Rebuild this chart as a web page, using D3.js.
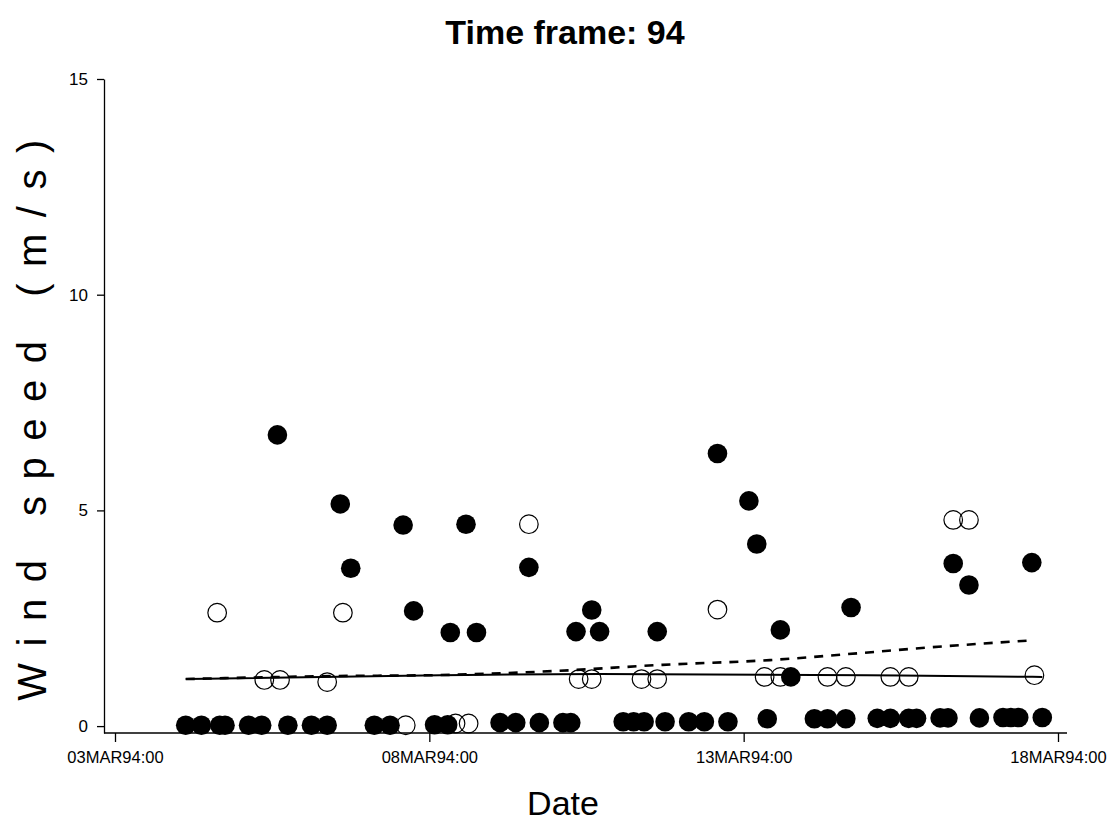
<!DOCTYPE html>
<html>
<head>
<meta charset="utf-8">
<script src="https://cdn.jsdelivr.net/npm/d3@7"></script>
<style>
  body { margin: 0; background: #fff; }
  text { font-family: "Liberation Sans", Arial, sans-serif; fill: #000; }
</style>
</head>
<body>
<div id="chart"></div>
<script>
// data (times as DDMONYY:HH, speed in m/s)
var filledTimes = [
  "04MAR94:03","04MAR94:09","04MAR94:16","04MAR94:18","05MAR94:03","05MAR94:08","05MAR94:18",
  "06MAR94:03","06MAR94:09","07MAR94:03","07MAR94:09","08MAR94:02","08MAR94:07",
  "09MAR94:03","09MAR94:09","09MAR94:18","10MAR94:03","10MAR94:06",
  "11MAR94:02","11MAR94:06","11MAR94:10","11MAR94:18","12MAR94:03","12MAR94:09","12MAR94:18",
  "13MAR94:09","14MAR94:03","14MAR94:08","14MAR94:15","15MAR94:03","15MAR94:08","15MAR94:15","15MAR94:18",
  "16MAR94:03","16MAR94:06","16MAR94:18","17MAR94:03","17MAR94:06","17MAR94:09","17MAR94:18",
  "05MAR94:14","06MAR94:14","06MAR94:18","07MAR94:14","07MAR94:18","08MAR94:08","08MAR94:14","08MAR94:18",
  "09MAR94:14","10MAR94:08","10MAR94:14","10MAR94:17","11MAR94:15","12MAR94:14","13MAR94:02","13MAR94:05",
  "13MAR94:14","13MAR94:18","14MAR94:17","16MAR94:08","16MAR94:14","17MAR94:14"
];
var filledSpeeds = [
  0.02,0.02,0.02,0.02,0.02,0.02,0.02,
  0.02,0.02,0.02,0.02,0.03,0.03,
  0.08,0.08,0.08,0.08,0.08,
  0.1,0.1,0.1,0.1,0.1,0.1,0.1,
  0.17,0.17,0.17,0.17,0.18,0.18,0.18,0.18,
  0.19,0.19,0.19,0.2,0.2,0.2,0.2,
  6.75,5.15,3.66,4.66,2.67,2.17,4.68,2.17,
  3.68,2.19,2.69,2.19,2.19,6.32,5.22,4.22,
  2.23,1.14,2.75,3.77,3.27,3.79
];

var openTimes = [
  "04MAR94:15","05MAR94:09","05MAR94:15","06MAR94:09","06MAR94:15","07MAR94:15","08MAR94:10","08MAR94:15",
  "09MAR94:14","10MAR94:09","10MAR94:14","11MAR94:09","11MAR94:15","12MAR94:14","13MAR94:08","13MAR94:14",
  "14MAR94:08","14MAR94:15","15MAR94:08","15MAR94:15","16MAR94:08","16MAR94:14","17MAR94:15"
];
var openSpeeds = [
  2.63,1.07,1.07,1.02,2.63,0.02,0.06,0.06,
  4.68,1.09,1.09,1.09,1.09,2.70,1.14,1.14,
  1.14,1.14,1.14,1.14,4.78,4.78,1.18
];

// fitted trend lines
var solidTimes = ["04MAR94:03","08MAR94:04","10MAR94:17","15MAR94:12","17MAR94:18"];
var solidSpeeds = [1.09, 1.18, 1.21, 1.17, 1.14];
var dashedTimes = ["04MAR94:03","06MAR94:11","08MAR94:01","10MAR94:01","11MAR94:17","13MAR94:10","14MAR94:20","15MAR94:22","17MAR94:12"];
var dashedSpeeds = [1.09, 1.16, 1.18, 1.28, 1.42, 1.53, 1.69, 1.82, 1.98];

var xTickLabels = ["03MAR94:00","08MAR94:00","13MAR94:00","18MAR94:00"];
var yTicks = [0, 5, 10, 15];

var svgWidth = 1112;
var svgHeight = 821;

var parseTime = d3.timeParse("%d%b%y:%H");
var formatTime = d3.timeFormat("%d%b%y:%H");

var svg = d3.select("#chart")
  .append("svg")
  .attr("width", svgWidth)
  .attr("height", svgHeight);

svg.append("rect").attr("width", svgWidth).attr("height", svgHeight).attr("fill", "#fff");

var xTickDates = xTickLabels.map(parseTime);

var xScale = d3.scaleTime()
  .domain([xTickDates[0], xTickDates[3]])
  .range([115, 1058]);

var yScale = d3.scaleLinear()
  .domain([-0.16, 15])
  .range([733, 79]);

// axes
var xAxis = d3.axisBottom(xScale)
  .tickValues(xTickDates)
  .tickSize(9)
  .tickSizeOuter(0)
  .tickFormat(d => formatTime(d).toUpperCase());

var gx = svg.append("g")
  .attr("transform", "translate(0,733)")
  .call(xAxis);
gx.select(".domain").attr("d", "M104,0H1067");
gx.selectAll("text")
  .attr("y", 18)
  .style("font-size", "16.5px");

var yAxis = d3.axisLeft(yScale)
  .tickValues(yTicks)
  .tickSize(7)
  .tickSizeOuter(0);

var gy = svg.append("g")
  .attr("transform", "translate(104,0)")
  .call(yAxis);
gy.selectAll("text")
  .attr("x", -16)
  .style("font-size", "17px");

svg.selectAll(".domain, .tick line").attr("stroke", "#000").attr("stroke-width", 1.3);

// trend lines
var line = d3.line()
  .x(d => xScale(d[0]))
  .y(d => yScale(d[1]))
  .curve(d3.curveMonotoneX);

var solidData = solidTimes.map((t, i) => [parseTime(t), solidSpeeds[i]]);
var dashedData = dashedTimes.map((t, i) => [parseTime(t), dashedSpeeds[i]]);

svg.append("path")
  .datum(dashedData)
  .attr("d", line)
  .attr("fill", "none")
  .attr("stroke", "#000")
  .attr("stroke-width", 2.6)
  .attr("stroke-dasharray", "9,8");

svg.append("path")
  .datum(solidData)
  .attr("d", line)
  .attr("fill", "none")
  .attr("stroke", "#000")
  .attr("stroke-width", 2);

// points
var openData = openTimes.map((t, i) => ({ date: parseTime(t), speed: openSpeeds[i] }));
var filledData = filledTimes.map((t, i) => ({ date: parseTime(t), speed: filledSpeeds[i] }));

svg.append("g").selectAll("circle")
  .data(openData)
  .enter()
  .append("circle")
  .attr("cx", d => xScale(d.date))
  .attr("cy", d => yScale(d.speed))
  .attr("r", 9.3)
  .attr("fill", "none")
  .attr("stroke", "#000")
  .attr("stroke-width", 1.2);

svg.append("g").selectAll("circle")
  .data(filledData)
  .enter()
  .append("circle")
  .attr("cx", d => xScale(d.date))
  .attr("cy", d => yScale(d.speed))
  .attr("r", 9.8)
  .attr("fill", "#000");

// titles
svg.append("text")
  .attr("x", 565)
  .attr("y", 44)
  .attr("text-anchor", "middle")
  .style("font-size", "34px")
  .style("font-weight", "bold")
  .text("Time frame: 94");

svg.append("text")
  .attr("x", 563)
  .attr("y", 815)
  .attr("text-anchor", "middle")
  .style("font-size", "34px")
  .text("Date");

svg.append("text")
  .attr("transform", "translate(46,412) rotate(-90)")
  .attr("text-anchor", "middle")
  .style("font-size", "40px")
  .style("letter-spacing", "16.5px")
  .text("Wind speed (m/s)");
</script>
</body>
</html>
